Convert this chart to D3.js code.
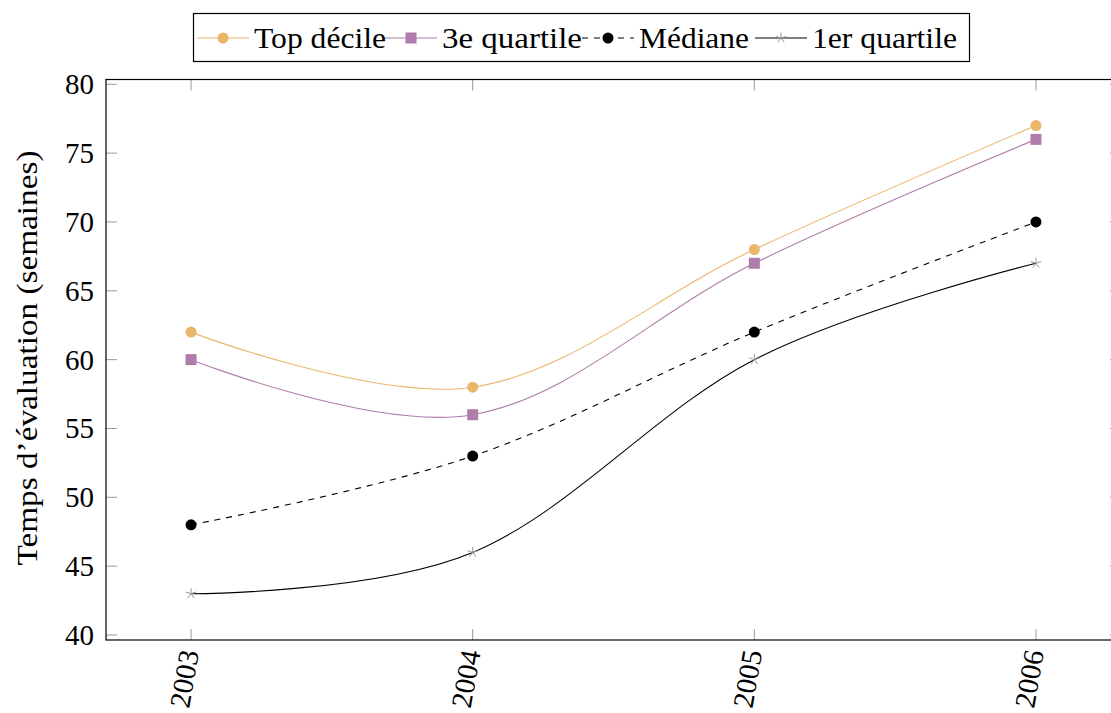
<!DOCTYPE html>
<html><head><meta charset="utf-8">
<script src="https://cdn.jsdelivr.net/npm/d3@7"></script>
<style>body{margin:0;background:#fff;} svg{display:block;font-family:"Liberation Serif",serif;}</style>
</head><body>
<svg id="c" width="1111" height="713"></svg>
<script>
const years = [2003, 2004, 2005, 2006];
const yTicks = [40, 45, 50, 55, 60, 65, 70, 75, 80];
const seriesNames = ["Top décile", "3e quartile", "Médiane", "1er quartile"];
const topDecile = [62, 58, 68, 77];
const troisQuartile = [60, 56, 67, 76];
const mediane = [48, 53, 62, 70];
const premierQuartile = [43, 46, 60, 67];

const svg = d3.select("#c");
const L = 106, R = 1121, T = 79.5, B = 640;
const x = d3.scaleLinear().domain([2003 - 0.302, 2006 + 0.302]).range([L, R]);
const y = d3.scaleLinear().domain([40, 80]).range([635, 84.3]);

const styles = [
  {vals: topDecile, color: "#E9B66A", mark: "circle", mcolor: "#E9B66A", dash: null},
  {vals: troisQuartile, color: "#B07DAA", mark: "square", mcolor: "#B07DAA", dash: null},
  {vals: mediane, color: "#000", mark: "circle", mcolor: "#000", dash: "6,6"},
  {vals: premierQuartile, color: "#000", mark: "star", mcolor: "#999", dash: null}
];

const tl = 11;
const g = svg.append("g");
yTicks.forEach(v => {
  g.append("line").attr("x1", L).attr("x2", L + tl).attr("y1", y(v)).attr("y2", y(v)).attr("stroke", "#999").attr("stroke-width", 1);
  g.append("line").attr("x1", R).attr("x2", R - tl).attr("y1", y(v)).attr("y2", y(v)).attr("stroke", "#999").attr("stroke-width", 1);
  g.append("text").attr("x", 94).attr("y", y(v)).attr("dy", "0.34em").attr("text-anchor", "end").attr("font-size", 29).text(v);
});
years.forEach(v => {
  g.append("line").attr("x1", x(v)).attr("x2", x(v)).attr("y1", B).attr("y2", B - tl).attr("stroke", "#999");
  g.append("line").attr("x1", x(v)).attr("x2", x(v)).attr("y1", T).attr("y2", T + tl).attr("stroke", "#999");
  g.append("text").attr("transform", `translate(${x(v) + 8},${B + 12}) rotate(-80)`).attr("text-anchor", "end").attr("font-size", 29).text(v);
});

const line = d3.line().x((d, i) => x(years[i])).y(d => y(d)).curve(d3.curveCardinal.tension(-0.05));

function marker(sel, type, cx, cy, color) {
  if (type === "circle") sel.append("circle").attr("cx", cx).attr("cy", cy).attr("r", 5.5).attr("fill", color);
  else if (type === "square") sel.append("rect").attr("x", cx - 5.5).attr("y", cy - 5.5).attr("width", 11).attr("height", 11).attr("fill", color);
  else {
    const r = 5.5;
    for (let k = 0; k < 5; k++) {
      const a = -Math.PI / 2 + k * 2 * Math.PI / 5;
      sel.append("line").attr("x1", cx).attr("y1", cy).attr("x2", cx + r * Math.cos(a)).attr("y2", cy + r * Math.sin(a)).attr("stroke", color).attr("stroke-width", 1);
    }
  }
}

styles.forEach(s => {
  svg.append("path").attr("d", line(s.vals)).attr("fill", "none").attr("stroke", s.color).attr("stroke-width", 1.1).attr("stroke-dasharray", s.dash);
});
styles.forEach(s => {
  const mg = svg.append("g");
  s.vals.forEach((v, i) => marker(mg, s.mark, x(years[i]), y(v), s.mcolor));
});

svg.append("rect").attr("x", L).attr("y", T).attr("width", R - L).attr("height", B - T).attr("fill", "none").attr("stroke", "#000").attr("stroke-width", 1.2);

svg.append("text").attr("transform", "translate(37,358) rotate(-90)").attr("text-anchor", "middle").attr("font-size", 29)
  .attr("textLength", 415).attr("lengthAdjust", "spacingAndGlyphs").text("Temps d’évaluation (semaines)");

svg.append("rect").attr("x", 193.5).attr("y", 13.5).attr("width", 776).attr("height", 48).attr("fill", "#fff").attr("stroke", "#000").attr("stroke-width", 1.2);
const legX = [197, 385, 582, 755];
const legW = [132, 140, 110, 145];
const ly = 38;
styles.forEach((s, i) => {
  const lg = svg.append("g");
  lg.append("line").attr("x1", legX[i]).attr("x2", legX[i] + 52).attr("y1", ly).attr("y2", ly).attr("stroke", s.color).attr("stroke-width", 1.1).attr("stroke-dasharray", s.dash);
  marker(lg, s.mark, legX[i] + 26, ly, s.mcolor);
  lg.append("text").attr("x", legX[i] + 57).attr("y", ly).attr("dy", "0.33em").attr("font-size", 29)
    .attr("textLength", legW[i]).attr("lengthAdjust", "spacingAndGlyphs").text(seriesNames[i]);
});
</script>
</body></html>
